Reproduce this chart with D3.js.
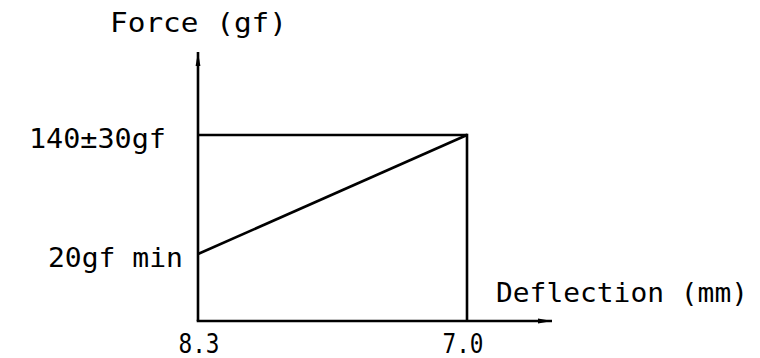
<!DOCTYPE html>
<html><head><meta charset="utf-8">
<script src="https://cdn.jsdelivr.net/npm/d3@7"></script>
<style>html,body{margin:0;padding:0;background:#fff;}svg{display:block;}</style>
</head><body>
<svg id="c" width="760" height="358"></svg>
<script>
// Data
const deflection = [8.3, 7.0];          // mm
const forceLine = [20, 140];            // gf, rising line
const forceLevel = 140;                 // gf, operating force
const xTickLabels = ["8.3", "7.0"];
const yTickLabels = ["140±30gf", "20gf min"];
const yTickValues = [140, 20];
const xTitle = "Deflection (mm)";
const yTitle = "Force (gf)";

const svg = d3.select("#c");
const x = d3.scaleLinear().domain([8.3, 7.0]).range([198, 467]);
const y = d3.scaleLinear().domain([20, 140]).range([254, 135]);
const originY = 321, axisEndX = 552, axisTopY = 52;
const font = "'DejaVu Sans Mono', monospace";

// arrow marker
const defs = svg.append("defs");
defs.append("marker").attr("id","arr").attr("viewBox","0 0 14 6").attr("refX",14).attr("refY",3)
  .attr("markerWidth",14).attr("markerHeight",6).attr("markerUnits","userSpaceOnUse").attr("orient","auto")
  .append("path").attr("d","M0,0.6 L14,3 L0,5.4 Z").attr("fill","#000");

const g = svg.append("g").attr("stroke","#000").attr("stroke-width",2.6).attr("fill","none");
// axes
g.append("line").attr("x1",x(8.3)).attr("y1",originY).attr("x2",x(8.3)).attr("y2",axisTopY).attr("marker-end","url(#arr)");
g.append("line").attr("x1",x(8.3)-1.3).attr("y1",originY).attr("x2",axisEndX).attr("y2",originY).attr("marker-end","url(#arr)");
// horizontal level
g.append("line").attr("x1",x(8.3)).attr("y1",y(forceLevel)).attr("x2",x(7.0)).attr("y2",y(forceLevel));
// vertical at 7.0
g.append("line").attr("x1",x(7.0)).attr("y1",y(forceLevel)-1.3).attr("x2",x(7.0)).attr("y2",originY);
// rising line
g.append("path").attr("d", d3.line().x(d=>x(d[0])).y(d=>y(d[1]))(deflection.map((d,i)=>[d, forceLine[i]])));

const t = svg.append("g").attr("font-family",font).attr("fill","#000").attr("font-size",27);
t.append("text").attr("x",110).attr("y",32).attr("textLength",177).attr("lengthAdjust","spacingAndGlyphs").text(yTitle);
t.append("text").attr("x",496).attr("y",302).attr("textLength",252).attr("lengthAdjust","spacingAndGlyphs").text(xTitle);
// y tick labels
const yLabelEnds = [166, 183], yLabelWidths = [137, 135];
yTickLabels.forEach((s,i)=>{
  t.append("text").attr("x",yLabelEnds[i]-yLabelWidths[i]).attr("y",y(yTickValues[i])+13)
   .attr("textLength",yLabelWidths[i]).attr("lengthAdjust","spacingAndGlyphs").text(s);
});
// x tick labels
const xOff = [0.5, -4.5];
xTickLabels.forEach((s,i)=>{
  t.append("text").attr("x",x(deflection[i])+xOff[i]-20).attr("y",353)
   .attr("textLength",41).attr("lengthAdjust","spacingAndGlyphs").text(s);
});
</script>
</body></html>
